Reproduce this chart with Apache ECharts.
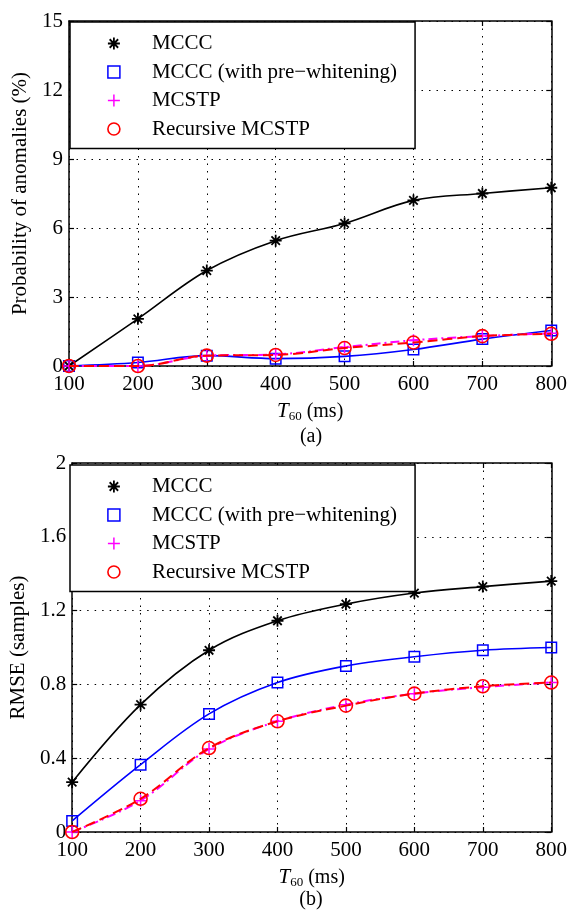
<!DOCTYPE html>
<html>
<head>
<meta charset="utf-8">
<script src="https://cdn.jsdelivr.net/npm/echarts@6/dist/echarts.min.js"></script>
<style>
html,body{margin:0;padding:0;background:#fff;}
#chart{width:570px;height:910px;}
</style>
</head>
<body>
<div id="chart"></div>
<script>
// ---- data ----
const T60 = [100, 200, 300, 400, 500, 600, 700, 800];
const seriesNames = ['MCCC', 'MCCC (with pre\u2212whitening)', 'MCSTP', 'Recursive MCSTP'];

// (a) Probability of anomalies (%)
const anomMCCC      = [0, 2.05, 4.15, 5.45, 6.2, 7.2, 7.5, 7.75];
const anomMCCCpw    = [0, 0.15, 0.45, 0.32, 0.42, 0.72, 1.17, 1.54];
const anomMCSTP     = [0, 0, 0.45, 0.5, 0.82, 1.12, 1.3, 1.42];
const anomRecMCSTP  = [0, 0, 0.45, 0.48, 0.78, 1.02, 1.3, 1.4];

// (b) RMSE (samples)
const rmseMCCC      = [0.27, 0.69, 0.985, 1.145, 1.235, 1.295, 1.33, 1.36];
const rmseMCCCpw    = [0.06, 0.365, 0.64, 0.81, 0.9, 0.95, 0.985, 1.0];
const rmseMCSTP     = [0, 0.17, 0.45, 0.6, 0.69, 0.75, 0.785, 0.81];
const rmseRecMCSTP  = [0, 0.18, 0.455, 0.6, 0.685, 0.75, 0.79, 0.81];

const xTicks = { min: 100, max: 800, interval: 100 };
const yTicksA = { min: 0, max: 15, interval: 3 };
const yTicksB = { min: 0, max: 2, interval: 0.4 };

// ---- styling ----
const FONT = 'Liberation Serif';
const STAR = 'path://M0,-10L0,10M-10,0L10,0M-7.07,-7.07L7.07,7.07M-7.07,7.07L7.07,-7.07';
const PLUS = 'path://M0,-10L0,10M-10,0L10,0';
const styles = [
  { symbol: STAR, size: 12, color: '#000000', bw: 1.8, line: { color: '#000000', width: 1.6, type: 'solid' } },
  { symbol: 'rect', size: 10.5, color: '#0000ff', bw: 1.5, line: { color: '#0000ff', width: 1.6, type: 'solid' } },
  { symbol: PLUS, size: 12, color: '#ff00ff', bw: 1.5, line: { color: '#ff00ff', width: 2, type: [9, 4, 2, 4] } },
  { symbol: 'circle', size: 13, color: '#ff0000', bw: 1.6, line: { color: '#ff0000', width: 2, type: [10, 5] } }
];

function pairs(arr) { return T60.map((x, i) => [x, arr[i]]); }

function makeSeries(dataArrs, gridIdx) {
  return dataArrs.map((arr, k) => {
    const s = styles[k];
    return {
      type: 'line',
      name: seriesNames[k],
      xAxisIndex: gridIdx * 2,
      yAxisIndex: gridIdx * 2,
      data: pairs(arr),
      smooth: 0.35,
      symbol: s.symbol,
      symbolSize: s.size,
      showSymbol: true,
      clip: true,
      lineStyle: { color: s.line.color, width: s.line.width, type: s.line.type },
      itemStyle: { color: 'rgba(0,0,0,0)', borderColor: s.color, borderWidth: s.bw },
      emphasis: { disabled: true },
      z: 2 + k
    };
  });
}

function makeLegend(top) {
  return {
    left: 70,
    top: top,
    orient: 'vertical',
    backgroundColor: '#ffffff',
    borderColor: '#000000',
    borderWidth: 1.5,
    padding: [11, 18, 9, 37],
    itemGap: 7.5,
    itemWidth: 12,
    itemHeight: 12,
    selectedMode: false,
    formatter: name => '{s|}' + name,
    textStyle: { fontFamily: FONT, fontSize: 21, color: '#000', rich: { s: { width: 27 } } },
    data: seriesNames.map((n, k) => ({
      name: n,
      icon: styles[k].symbol,
      itemStyle: { color: 'rgba(0,0,0,0)', borderColor: styles[k].color, borderWidth: styles[k].bw }
    }))
  };
}

const xName = {
  name: '{i|T}{s|60} (ms)',
  nameLocation: 'middle',
  nameGap: 34,
  nameTextStyle: {
    fontFamily: FONT, fontSize: 20, color: '#000',
    rich: {
      i: { fontFamily: FONT, fontSize: 21, fontStyle: 'italic', color: '#000' },
      s: { fontFamily: FONT, fontSize: 13, color: '#000', padding: [10, 0, 0, 0] }
    }
  }
};

function mainX(gridIdx) {
  return Object.assign({
    type: 'value', gridIndex: gridIdx, position: 'bottom',
    min: xTicks.min, max: xTicks.max, interval: xTicks.interval,
    axisLine: { show: true, lineStyle: { color: '#000', width: 1.5 } },
    axisTick: { show: true, inside: true, length: 5, lineStyle: { color: '#000', width: 1.2 } },
    axisLabel: { show: true, margin: 8, fontFamily: FONT, fontSize: 21, color: '#000' },
    splitLine: { show: true, lineStyle: { color: '#000', width: 1, type: [1.5, 6] } }
  }, xName);
}
function topX(gridIdx) {
  return {
    type: 'value', gridIndex: gridIdx, position: 'top',
    min: xTicks.min, max: xTicks.max, interval: xTicks.interval,
    axisLine: { show: true, onZero: false, lineStyle: { color: '#000', width: 1.5 } },
    axisTick: { show: true, inside: true, length: 5, lineStyle: { color: '#000', width: 1.2 } },
    axisLabel: { show: false },
    splitLine: { show: false }
  };
}
function mainY(gridIdx, t, name) {
  return {
    type: 'value', gridIndex: gridIdx, position: 'left',
    min: t.min, max: t.max, interval: t.interval,
    name: name, nameLocation: 'middle', nameGap: 33,
    nameTextStyle: { fontFamily: FONT, fontSize: 21, color: '#000' },
    axisLine: { show: true, onZero: false, lineStyle: { color: '#000', width: 1.5 } },
    axisTick: { show: true, inside: true, length: 5, lineStyle: { color: '#000', width: 1.2 } },
    axisLabel: { show: true, margin: 6, fontFamily: FONT, fontSize: 21, color: '#000' },
    splitLine: { show: true, lineStyle: { color: '#000', width: 1, type: [1.5, 6] } }
  };
}
function rightY(gridIdx, t) {
  return {
    type: 'value', gridIndex: gridIdx, position: 'right',
    min: t.min, max: t.max, interval: t.interval,
    axisLine: { show: true, onZero: false, lineStyle: { color: '#000', width: 1.5 } },
    axisTick: { show: true, inside: true, length: 5, lineStyle: { color: '#000', width: 1.2 } },
    axisLabel: { show: false },
    splitLine: { show: false }
  };
}

const option = {
  animation: false,
  backgroundColor: '#ffffff',
  title: [
    { text: '(a)', left: 311, top: 427, textAlign: 'center', padding: 0,
      textStyle: { fontFamily: FONT, fontSize: 20, fontWeight: 'normal', color: '#000' } },
    { text: '(b)', left: 311, top: 890, textAlign: 'center', padding: 0,
      textStyle: { fontFamily: FONT, fontSize: 20, fontWeight: 'normal', color: '#000' } }
  ],
  grid: [
    { left: 69, width: 484, top: 21, height: 345, containLabel: false },
    { left: 69, width: 484, top: 463, height: 369, containLabel: false }
  ],
  legend: [makeLegend(22), makeLegend(465)],
  xAxis: [mainX(0), topX(0), mainX(1), topX(1)],
  yAxis: [
    mainY(0, yTicksA, 'Probability of anomalies (%)'), rightY(0, yTicksA),
    mainY(1, yTicksB, 'RMSE (samples)'), rightY(1, yTicksB)
  ],
  series: [
    ...makeSeries([anomMCCC, anomMCCCpw, anomMCSTP, anomRecMCSTP], 0),
    ...makeSeries([rmseMCCC, rmseMCCCpw, rmseMCSTP, rmseRecMCSTP], 1)
  ]
};

const chart = echarts.init(document.getElementById('chart'), null, { renderer: 'canvas' });
chart.setOption(option);
</script>
</body>
</html>
